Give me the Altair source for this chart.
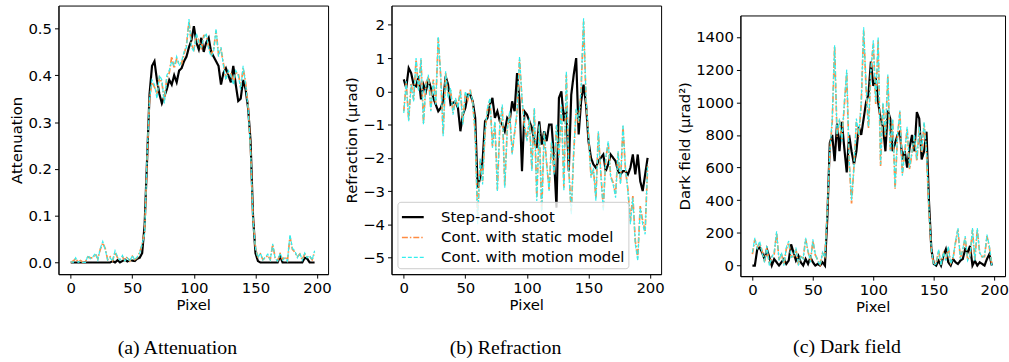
import altair as alt
import pandas as pd

PIXELS = list(range(0, 200, 2))
SERIES = ["Step-and-shoot", "Cont. with static model", "Cont. with motion model"]
COLORS = ["#000000", "#ff8c42", "#33eeee"]
DASHES = [[1, 0], [6, 2, 1.5, 2], [4, 2]]
WIDTHS = [2.2, 1.2, 1.2]
X_TICKS = [0, 50, 100, 150, 200]

# ---- (a) Attenuation ----
att_step = [0, 0, 0, 0, 0, 0, 0, 0, 0, 0,
            0, 0, 0, 0, 0, 0, 0, 0.003, 0, 0.005,
            0, 0.003, 0.006, 0.002, 0.005, 0.004, 0.003, 0.008, 0.01, 0.02,
            0.08, 0.22, 0.36, 0.42, 0.43, 0.39, 0.36, 0.34, 0.355, 0.37,
            0.39, 0.38, 0.40, 0.385, 0.41, 0.415, 0.43, 0.44, 0.46, 0.475,
            0.505, 0.47, 0.455, 0.48, 0.45, 0.47, 0.48, 0.45, 0.44, 0.43,
            0.42, 0.38, 0.405, 0.415, 0.40, 0.385, 0.42, 0.38, 0.345, 0.35,
            0.39, 0.37, 0.33, 0.26, 0.10, 0.02, 0.003, 0, 0, 0,
            0, 0, 0, 0, 0, 0.014, 0, 0, 0, 0,
            0, 0, 0, 0, 0, 0.01, 0.008, 0, 0, 0]
att_static = [0, 0.003, 0.008, 0.001, 0.004, 0, 0.002, 0.012, 0.01, 0.01,
              0.018, 0.008, 0.028, 0.042, 0.03, 0.006, 0.012, 0.004, 0.022, 0.01,
              0.006, 0.012, 0.004, 0.012, 0.003, 0.013, 0.006, 0.01, 0.022, 0.038,
              0.065, 0.22, 0.35, 0.385, 0.375, 0.36, 0.395, 0.385, 0.345, 0.395,
              0.405, 0.44, 0.415, 0.435, 0.425, 0.425, 0.445, 0.465, 0.515, 0.465,
              0.455, 0.485, 0.475, 0.455, 0.485, 0.485, 0.46, 0.445, 0.455, 0.495,
              0.445, 0.455, 0.425, 0.395, 0.405, 0.405, 0.385, 0.405, 0.405, 0.375,
              0.415, 0.385, 0.335, 0.245, 0.095, 0.03, 0.012, 0.018, 0.006, 0.01,
              0.015, 0.006, 0.038, 0.01, 0.004, 0.018, 0.006, 0.012, 0.004, 0.055,
              0.028, 0.022, 0.012, 0.018, 0.006, 0.018, 0.012, 0.013, 0.006, 0.022]
att_motion = [0.002, 0, 0.01, 0, 0.003, 0, 0, 0.015, 0.008, 0.012,
              0.02, 0.005, 0.03, 0.045, 0.028, 0.005, 0.01, 0.003, 0.025, 0.012,
              0.005, 0.015, 0.003, 0.01, 0.002, 0.015, 0.005, 0.012, 0.02, 0.04,
              0.06, 0.23, 0.35, 0.39, 0.38, 0.35, 0.40, 0.39, 0.34, 0.40,
              0.41, 0.43, 0.42, 0.44, 0.42, 0.43, 0.45, 0.46, 0.52, 0.46,
              0.45, 0.49, 0.47, 0.46, 0.48, 0.49, 0.455, 0.44, 0.45, 0.50,
              0.44, 0.46, 0.42, 0.39, 0.41, 0.40, 0.38, 0.41, 0.40, 0.37,
              0.42, 0.38, 0.33, 0.24, 0.09, 0.03, 0.01, 0.02, 0.005, 0.012,
              0.018, 0.005, 0.04, 0.008, 0.003, 0.02, 0.005, 0.01, 0.003, 0.06,
              0.03, 0.025, 0.01, 0.02, 0.005, 0.02, 0.01, 0.015, 0.005, 0.025]

# ---- (b) Refraction ----
ref_step = [0.36, 0.1, 0.7, 0.55, 0.2, 0.15, 0.45, -0.24, 0.2, 0.0,
            0.36, 0.1, -0.2, -0.4, -0.6, -0.5, -0.3, 0.45, 0.2, -0.4,
            -0.35, -0.3, -0.5, -1.2, -0.7, -0.5, -0.1, -0.1, -0.3, -0.8,
            -2.9, -2.6, -2.1, -0.9, -0.8, -0.4, -0.2, -0.8, -0.6, -0.9,
            -1.0, -1.2, -0.8, -0.9, -0.3, -0.6, 0.55, -0.3, -2.4, -0.6,
            -0.7, -0.9, -1.1, -1.5, -1.7, -0.9, -1.6, -1.2, -1.5, -1.0,
            -1.0, -2.0, -3.5, -0.2, 0.0, -0.9, -0.5, -2.4, -0.1, 0.5,
            1.0, -1.3, -0.3, 0.2, -0.4, -1.5, -2.0, -2.2, -2.3, -2.1,
            -2.0, -1.9, -2.4, -2.2, -1.9, -2.0, -2.1, -2.4, -2.5, -2.4,
            -2.4, -2.5, -2.3, -1.9, -2.5, -1.9, -2.7, -3.0, -2.5, -2.0]
ref_static = [-0.6, 0.25, -0.85, 0.25, -0.25, 0.95, 0.05, 0.95, -0.95, 0.25,
              0.45, -0.55, 0.35, -0.35, 1.6, 0.45, -1.3, 0.55, -0.15, 0.05,
              -0.65, -0.25, -0.45, 0.05, -0.95, -0.05, -0.25, 0.05, -0.35, -1.25,
              -3.8, -2.1, -2.7, -1.25, -0.55, -0.25, -1.65, -0.95, -2.95, -1.05,
              -0.45, -2.85, -1.15, -0.65, -1.85, -1.25, -0.65, 0.95, -0.25, -1.05,
              -1.45, -0.85, -2.35, -0.55, -3.2, -1.05, -3.6, -1.25, -2.15, -2.95,
              -1.55, -2.45, -1.05, -1.95, -0.45, -2.9, 0.5, -2.35, -3.6, -1.85,
              -0.55, -0.95, 0.05, 2.1, -0.25, -1.35, -2.55, -2.35, -3.2, -1.25,
              -2.45, -3.5, -2.05, -1.55, -2.55, -2.75, -3.1, -1.85, -2.75, -1.05,
              -2.35, -2.95, -3.9, -3.15, -4.5, -5.0, -3.45, -3.9, -4.2, -2.25]
ref_motion = [-0.65, 0.3, -0.9, 0.2, -0.3, 1.0, 0.0, 1.0, -1.0, 0.2,
              0.5, -0.6, 0.3, -0.4, 1.65, 0.5, -1.35, 0.6, -0.2, 0.1,
              -0.7, -0.2, -0.5, 0.0, -1.0, 0.0, -0.2, 0.0, -0.3, -1.3,
              -4.0, -2.0, -2.8, -1.2, -0.5, -0.2, -1.7, -0.9, -3.0, -1.0,
              -0.4, -2.9, -1.2, -0.6, -1.9, -1.2, -0.6, 1.05, -0.2, -1.0,
              -1.5, -0.8, -2.4, -0.5, -3.3, -1.0, -3.7, -1.2, -2.2, -3.0,
              -1.5, -2.5, -1.0, -2.0, -0.4, -3.0, 0.6, -2.4, -3.7, -1.8,
              -0.5, -0.9, 0.1, 2.2, -0.2, -1.3, -2.6, -2.3, -3.3, -1.2,
              -2.5, -3.6, -2.0, -1.5, -2.6, -2.8, -3.2, -1.8, -2.8, -1.0,
              -2.3, -3.0, -4.0, -3.2, -4.6, -5.1, -3.5, -4.0, -4.3, -2.2]

# ---- (c) Dark field ----
df_step = [0, 0, 100, 110, 80, 40, 100, 50, 0, 40,
           20, 0, 20, 40, 10, 30, 130, 80, 30, 60,
           20, 0, 40, 10, 50, 20, 0, 10, 0, 20,
           0, 300, 750, 800, 640, 870, 700, 880, 720, 570,
           800, 700, 620, 700, 850, 800, 900, 1000, 1050, 1250,
           1100, 1150, 1000, 900, 850, 700, 950, 900, 700, 750,
           800, 820, 650, 700, 600, 720, 800, 700, 940, 900,
           650, 700, 820, 400, 100, 10, 0, 30, 0, 60,
           100, 20, 0, 40, 20, 10, 30, 40, 100, 80,
           120, 0, 30, 0, 20, 10, 0, 40, 70, 0]
df_static = [70, 160, 110, 140, 90, 25, 110, 5, 55, 70,
             200, 35, 75, 5, 100, 140, 55, 55, 100, 5,
             55, 45, 160, 85, 25, 150, 65, 35, 5, 75,
             55, 340, 690, 880, 1340, 790, 890, 770, 980, 1180,
             640, 380, 610, 880, 790, 990, 1440, 1090, 840, 1190,
             1360, 990, 1380, 610, 990, 790, 1160, 710, 890, 470,
             790, 940, 560, 690, 840, 590, 690, 790, 640, 840,
             690, 870, 690, 340, 90, 5, 15, 90, 5, 75,
             35, 110, 15, 45, 140, 220, 45, 95, 170, 35,
             55, 220, 35, 220, 75, 55, 55, 180, 110, 5]
df_motion = [80, 170, 100, 150, 80, 20, 120, 0, 50, 80,
             210, 30, 80, 0, 110, 150, 50, 60, 110, 0,
             60, 40, 170, 90, 20, 160, 70, 30, 0, 80,
             50, 350, 700, 900, 1350, 800, 900, 760, 1000, 1200,
             650, 400, 600, 900, 800, 1000, 1460, 1100, 850, 1200,
             1380, 1000, 1400, 620, 1000, 800, 1170, 700, 900, 480,
             800, 950, 550, 700, 850, 600, 700, 800, 650, 850,
             700, 880, 700, 350, 100, 0, 10, 100, 0, 80,
             30, 120, 10, 50, 150, 230, 40, 100, 180, 30,
             60, 230, 30, 230, 80, 50, 60, 190, 120, 0]


def make_df(vals_list):
    rows = []
    for name, vals in zip(SERIES, vals_list):
        for p, v in zip(PIXELS, vals):
            rows.append({"pixel": p, "value": v, "series": name})
    return pd.DataFrame(rows)


def panel(vals_list, ytitle, ydomain, yticks, yfmt, caption, width, height,
          show_legend, cap_dx=0, cap_offset=26):
    data = make_df(vals_list)
    if show_legend:
        leg = alt.Legend(title=None, orient="bottom-left", symbolType="stroke",
                         symbolSize=484, labelFont="DejaVu Sans", labelFontSize=15,
                         labelColor="black", labelOffset=16, labelLimit=400,
                         rowPadding=0, padding=3, offset=6, strokeColor="#cccccc",
                         fillColor="rgba(255,255,255,0.8)", cornerRadius=3)
    else:
        leg = None
    layers = []
    for name in SERIES:
        layers.append(
            alt.Chart(data)
            .transform_filter(alt.datum.series == name)
            .mark_line(clip=True)
            .encode(
                x=alt.X("pixel:Q",
                        scale=alt.Scale(domain=[-9.95, 208.95], nice=False, zero=False),
                        axis=alt.Axis(values=X_TICKS, format="d", title="Pixel",
                                      titlePadding=2)),
                y=alt.Y("value:Q",
                        scale=alt.Scale(domain=ydomain, nice=False, zero=False),
                        axis=alt.Axis(values=yticks, format=yfmt, title=ytitle,
                                      titlePadding=3)),
                color=alt.Color("series:N", scale=alt.Scale(domain=SERIES, range=COLORS),
                                legend=leg),
                strokeDash=alt.StrokeDash("series:N",
                                          scale=alt.Scale(domain=SERIES, range=DASHES),
                                          legend=leg),
                strokeWidth=alt.StrokeWidth("series:N",
                                            scale=alt.Scale(domain=SERIES, range=WIDTHS),
                                            legend=leg),
            )
        )
    return alt.layer(*layers).properties(
        width=width, height=height,
        title=alt.TitleParams(caption, orient="bottom", font="Liberation Serif",
                              fontSize=20, fontWeight="normal", color="black",
                              anchor="middle", offset=cap_offset, dx=cap_dx),
    )


p1 = panel([att_step, att_static, att_motion], "Attenuation", [-0.025, 0.549],
           [0, 0.1, 0.2, 0.3, 0.4, 0.5], ".1f", "(a) Attenuation", 272, 271, False,
           cap_dx=-16)
p2 = panel([ref_step, ref_static, ref_motion], "Refraction (μrad)", [-5.5, 2.58],
           [-5, -4, -3, -2, -1, 0, 1, 2], "d", "(b) Refraction", 272, 271, True,
           cap_dx=-21)
p3 = panel([df_step, df_static, df_motion], "Dark field (μrad²)", [-65, 1532],
           [0, 200, 400, 600, 800, 1000, 1200, 1400], "d", "(c) Dark field", 267, 263,
           False, cap_dx=-26, cap_offset=23)

spacer = (
    alt.Chart(pd.DataFrame({"k": [0]}))
    .mark_point(opacity=0, size=1)
    .encode(x=alt.value(10), y=alt.value(4))
    .properties(width=267, height=8, view=alt.ViewBackground(stroke="transparent"))
)
p3_col = alt.vconcat(spacer, p3, spacing=0)

chart = (
    alt.hconcat(p1, p2, p3_col, spacing=12)
    .resolve_scale(color="independent", strokeDash="independent",
                   strokeWidth="independent", x="independent", y="independent")
    .resolve_legend(color="independent", strokeDash="independent",
                    strokeWidth="independent")
    .properties(padding={"left": 9, "top": 3, "right": 0, "bottom": 0})
    .configure_view(stroke="black", strokeWidth=1)
    .configure_axis(labelFont="DejaVu Sans", labelFontSize=15, labelColor="black",
                    titleFont="DejaVu Sans", titleFontSize=15, titleFontWeight="normal",
                    titleColor="black", tickColor="black", domainColor="black",
                    grid=False, tickSize=4, labelPadding=3)
)

chart.save("out.html", embed_options={"renderer": "svg", "actions": False})
